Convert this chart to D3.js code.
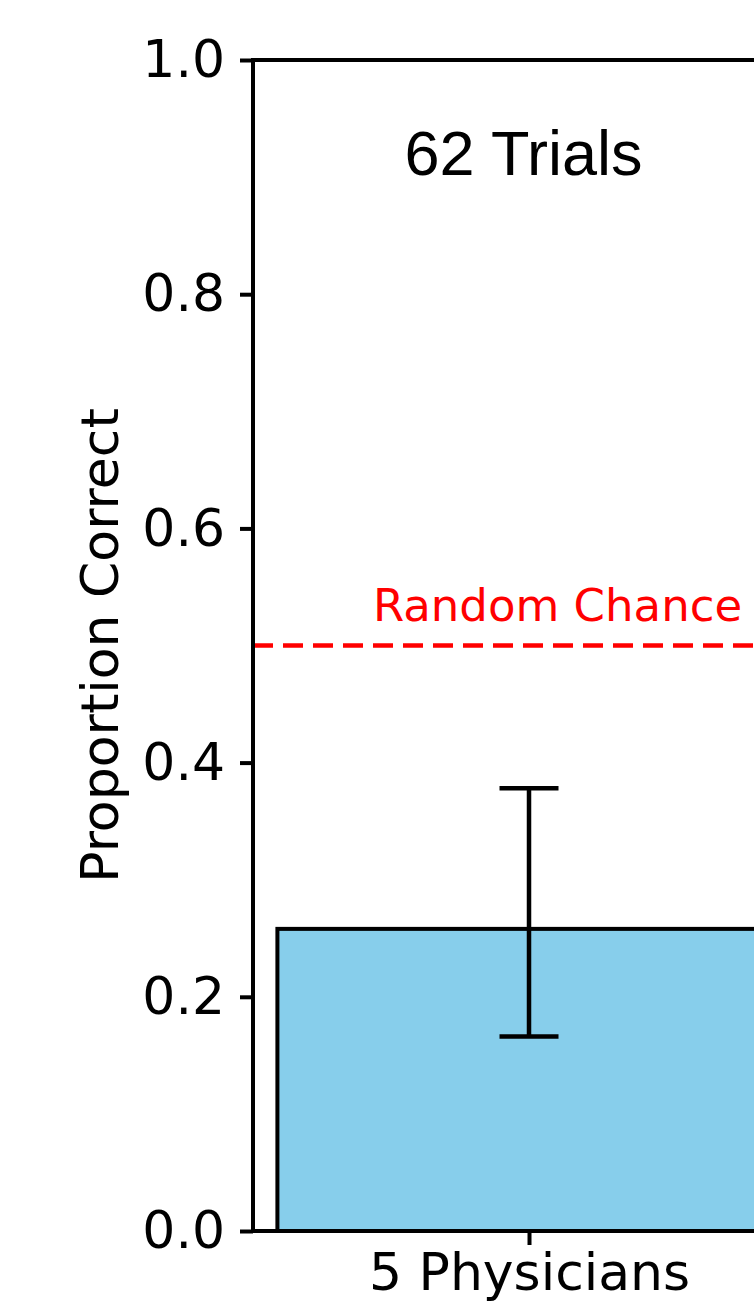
<!DOCTYPE html>
<html lang="en">
<head>
    <meta charset="UTF-8">
    <title>Proportion Correct</title>
    <script src="https://d3js.org/d3.v7.min.js"></script>
    <style>
        body {
            margin: 0;
            background: white;
        }
        svg {
            display: block;
            font-family: "DejaVu Sans", sans-serif;
        }
    </style>
</head>
<body>
    <div id="chart"></div>

    <script>
        // Data
        const categories = ["5 Physicians"];
        const values = [0.258];
        const errLow = [0.166];
        const errHigh = [0.378];
        const yTicks = [0, 0.2, 0.4, 0.6, 0.8, 1.0];
        const chanceLevel = 0.5;
        const trialsLabel = "62 Trials";

        const width = 754;
        const height = 1302;

        const svg = d3.select("#chart")
            .append("svg")
            .attr("width", width)
            .attr("height", height);

        // Scales (plot area runs off the right edge of the picture)
        const x = d3.scaleLinear()
            .domain([-0.4388, 1])
            .range([253, 253 + 629 * 1.4388]);

        const y = d3.scaleLinear()
            .domain([0, 1])
            .range([1231, 60]);

        // Bars
        svg.append("g")
            .selectAll("rect")
            .data(values)
            .enter()
            .append("rect")
            .attr("x", (_, i) => x(i - 0.4))
            .attr("y", d => y(d))
            .attr("width", x(0.4) - x(-0.4))
            .attr("height", d => y(0) - y(d))
            .attr("fill", "#87ceeb")
            .attr("stroke", "#000")
            .attr("stroke-width", 4);

        // Error bars
        const err = svg.append("g")
            .attr("stroke", "#000")
            .attr("stroke-width", 4.5);

        categories.forEach((c, i) => {
            const cx = x(i);
            err.append("line")
                .attr("x1", cx).attr("x2", cx)
                .attr("y1", y(errLow[i])).attr("y2", y(errHigh[i]));
            [errLow[i], errHigh[i]].forEach(v => {
                err.append("line")
                    .attr("x1", cx - 29.5).attr("x2", cx + 29.5)
                    .attr("y1", y(v)).attr("y2", y(v));
            });
        });

        // Random chance line
        svg.append("line")
            .attr("x1", x.range()[0])
            .attr("x2", x.range()[1])
            .attr("y1", y(chanceLevel))
            .attr("y2", y(chanceLevel))
            .attr("stroke", "#ff0000")
            .attr("stroke-width", 4.6)
            .attr("stroke-dasharray", "20,10");

        svg.append("text")
            .attr("x", 373)
            .attr("y", y(chanceLevel) - 25)
            .attr("fill", "#ff0000")
            .attr("font-size", 45)
            .text("Random Chance");

        // Trials annotation
        svg.append("text")
            .attr("x", 523.5)
            .attr("y", 175)
            .attr("text-anchor", "middle")
            .attr("font-family", "'Liberation Sans', Arial, sans-serif")
            .attr("font-size", 63)
            .text(trialsLabel);

        // Y axis
        const yAxis = svg.append("g")
            .attr("transform", `translate(${x.range()[0]},0)`)
            .call(d3.axisLeft(y)
                .tickValues(yTicks)
                .tickFormat(d3.format(".1f"))
                .tickSize(13)
                .tickPadding(15));
        yAxis.select(".domain").remove();
        yAxis.selectAll("line").attr("stroke-width", 4);
        yAxis.selectAll("text")
            .attr("font-size", 52)
            .attr("font-family", "'DejaVu Sans', sans-serif")
            .attr("fill", "#000");

        // X axis
        const xAxis = svg.append("g")
            .attr("transform", `translate(0,${y(0)})`)
            .call(d3.axisBottom(x)
                .tickValues(d3.range(categories.length))
                .tickFormat(i => categories[i])
                .tickSize(14)
                .tickPadding(8));
        xAxis.select(".domain").remove();
        xAxis.selectAll("line").attr("stroke-width", 4);
        xAxis.selectAll("text")
            .attr("font-size", 52)
            .attr("font-family", "'DejaVu Sans', sans-serif")
            .attr("fill", "#000");

        // Spines
        const spines = svg.append("g")
            .attr("stroke", "#000")
            .attr("stroke-width", 4)
            .attr("stroke-linecap", "square");
        spines.append("line")
            .attr("x1", x.range()[0]).attr("x2", x.range()[0])
            .attr("y1", y(0)).attr("y2", y(1));
        spines.append("line")
            .attr("x1", x.range()[0]).attr("x2", x.range()[1])
            .attr("y1", y(1)).attr("y2", y(1));
        spines.append("line")
            .attr("x1", x.range()[0]).attr("x2", x.range()[1])
            .attr("y1", y(0)).attr("y2", y(0));

        // Y label
        svg.append("text")
            .attr("transform", `translate(118,${(y(0) + y(1)) / 2}) rotate(-90)`)
            .attr("text-anchor", "middle")
            .attr("font-size", 52)
            .text("Proportion Correct");
    </script>
</body>
</html>
